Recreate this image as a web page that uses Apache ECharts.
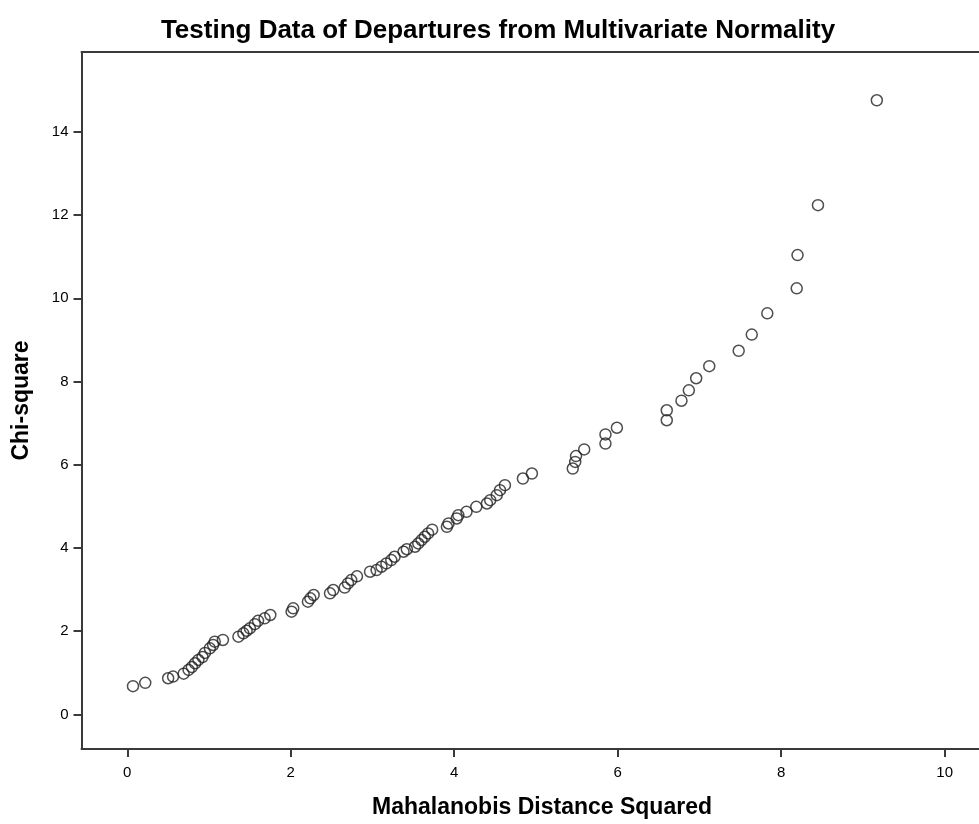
<!DOCTYPE html>
<html>
<head>
<meta charset="utf-8">
<script src="https://cdn.jsdelivr.net/npm/echarts@6/dist/echarts.min.js"></script>
<style>
html,body{margin:0;padding:0;background:#fff;}
#chart{width:979px;height:824px;}
</style>
</head>
<body>
<div id="chart"></div>
<script>
// Mahalanobis distance squared (x) and chi-square quantile (y)
var mahalanobis = [0.07,0.22,0.50,0.56,0.69,0.75,0.79,0.83,0.87,0.92,0.95,1.01,1.05,1.07,1.17,1.36,1.42,1.46,1.50,1.56,1.60,1.68,1.75,2.01,2.03,
  2.21,2.24,2.28,2.48,2.52,2.66,2.70,2.74,2.81,2.97,3.05,3.11,3.17,3.23,3.27,3.38,3.42,3.52,3.56,3.60,3.64,3.68,3.73,3.91,3.93,
  4.03,4.05,4.15,4.27,4.40,4.44,4.52,4.56,4.62,4.84,4.95,5.45,5.48,5.49,5.59,5.85,5.85,5.99,6.60,6.60,6.78,6.87,6.96,7.12,7.48,7.64,7.83,8.19,8.20,8.45,9.17];
var chiSquare = [0.68,0.76,0.87,0.91,0.98,1.07,1.14,1.23,1.31,1.38,1.48,1.59,1.67,1.75,1.79,1.87,1.95,2.01,2.07,2.17,2.25,2.31,2.39,2.47,2.55,
  2.71,2.79,2.87,2.91,2.99,3.05,3.15,3.23,3.32,3.43,3.47,3.55,3.63,3.71,3.79,3.91,3.97,4.03,4.11,4.19,4.27,4.35,4.44,4.51,4.59,
  4.71,4.79,4.87,4.99,5.07,5.15,5.27,5.39,5.51,5.67,5.79,5.91,6.07,6.21,6.37,6.51,6.73,6.89,7.07,7.31,7.54,7.79,8.08,8.37,8.74,9.13,9.64,10.24,11.04,12.24,14.76];
var xTicks = [0,2,4,6,8,10];
var yTicks = [0,2,4,6,8,10,12,14];
var chartTitle = 'Testing Data of Departures from Multivariate Normality';
var xTitle = 'Mahalanobis Distance Squared';
var yTitle = 'Chi-square';

var points = mahalanobis.map(function(v,i){return [v, chiSquare[i]];});
var FONT = '"Liberation Sans", Arial, sans-serif';
var AX = '#3a3a3a';
var chart = echarts.init(document.getElementById('chart'), null, {renderer:'canvas'});
chart.setOption({
  animation:false,
  backgroundColor:'#ffffff',
  title:{
    text:chartTitle, left:493, textAlign:'center', top:13,
    textStyle:{fontFamily:FONT, fontWeight:'bold', fontSize:26, color:'#000'}
  },
  grid:{left:81.5, top:52, right:0, bottom:75, show:false},
  xAxis:[{
    type:'value', min:-0.56, max:10.42,
    axisLine:{show:true, onZero:false, lineStyle:{color:AX, width:2}},
    axisTick:{show:true, customValues:xTicks, length:8, lineStyle:{color:AX, width:2}},
    axisLabel:{customValues:xTicks, margin:16, fontFamily:FONT, fontSize:15, color:'#000'},
    splitLine:{show:false}
  },{
    type:'value', min:-0.56, max:10.42, position:'top',
    axisLine:{show:true, onZero:false, lineStyle:{color:AX, width:2}},
    axisTick:{show:false}, axisLabel:{show:false}, splitLine:{show:false}
  }],
  yAxis:{
    type:'value', min:-0.83, max:15.92,
    name:yTitle, nameLocation:'middle', nameGap:48,
    nameTextStyle:{fontFamily:FONT, fontWeight:'bold', fontSize:23, color:'#000'},
    axisLine:{show:true, onZero:false, lineStyle:{color:AX, width:2}},
    axisTick:{show:true, customValues:yTicks, length:8, lineStyle:{color:AX, width:2}},
    axisLabel:{customValues:yTicks, margin:13, fontFamily:FONT, fontSize:15, color:'#000'},
    splitLine:{show:false}
  },
  graphic:[{
    type:'text', x:542, y:808,
    style:{text:xTitle, fontFamily:FONT, fontWeight:'bold', fontSize:23, fill:'#000', textAlign:'center', textVerticalAlign:'middle'}
  }],
  series:[{
    type:'scatter', data:points, symbol:'circle', symbolSize:11,
    itemStyle:{color:'transparent', borderColor:'#222', borderWidth:1.5}
  }]
});
</script>
</body>
</html>
